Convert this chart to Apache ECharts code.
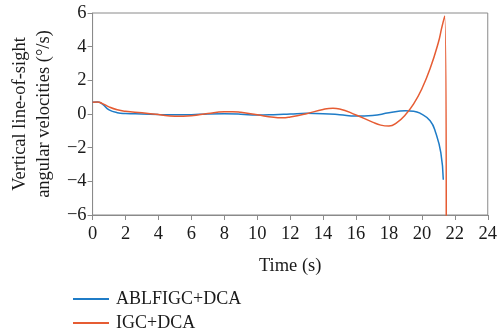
<!DOCTYPE html>
<html><head><meta charset="utf-8">
<script src="https://cdn.jsdelivr.net/npm/echarts@6/dist/echarts.min.js"></script>
<style>html,body{margin:0;padding:0;background:#fff}#c{width:500px;height:333px}</style>
</head><body><div id="c"></div>
<script>
const seriesNames = ['ABLFIGC+DCA', 'IGC+DCA'];
const blueT = [0, 0.3, 0.6, 1, 1.5, 2, 3, 4, 5, 6, 7, 8, 9, 10, 11, 12, 13, 14, 15, 16, 17, 18, 19, 19.5, 19.9, 20.5, 20.85, 21.15, 21.3];
const blueV = [0.7, 0.72, 0.58, 0.25, 0.08, 0.03, 0, -0.03, -0.05, -0.04, 0, 0.01, -0.01, -0.06, -0.04, 0, 0.04, 0.02, -0.04, -0.12, -0.09, 0.07, 0.19, 0.17, 0.04, -0.4, -1.15, -2.3, -3.9];
const redT = [0, 0.3, 0.6, 1, 1.5, 2, 3, 4, 5, 6, 7, 8, 8.5, 9, 10, 11, 11.5, 12, 13, 14, 14.6, 15, 16, 17, 17.5, 18, 18.5, 19, 19.5, 20, 20.5, 21, 21.2, 21.38, 21.48];
const redV = [0.7, 0.72, 0.62, 0.42, 0.25, 0.16, 0.07, -0.03, -0.13, -0.1, 0.03, 0.13, 0.14, 0.1, -0.05, -0.2, -0.23, -0.18, 0.02, 0.27, 0.34, 0.3, -0.06, -0.48, -0.66, -0.72, -0.5, -0.05, 0.6, 1.5, 2.7, 4.25, 5.1, 5.82, -7];
const xTicks = {min: 0, max: 24, interval: 2};
const yTicks = {min: -6, max: 6, interval: 2};

const zip = (t, v) => t.map((x, i) => [x, v[i]]);
const font = 'Liberation Serif';
const minus = v => String(v).replace('-', '\u2212');
const colors = ['#1f7cc7', '#e65c33'];
const legendBase = {
  left: 68, itemWidth: 36, itemHeight: 2, icon: 'rect',
  textStyle: {fontFamily: font, fontSize: 18, color: '#1a1a1a', padding: [0, 0, 0, 2]}
};

const chart = echarts.init(document.getElementById('c'));
chart.setOption({
  animation: false,
  grid: {left: 83, right: 10, top: 13, bottom: 118, show: true, borderColor: '#8a8a8a', borderWidth: 1},
  legend: [
    Object.assign({}, legendBase, {top: 285, data: [seriesNames[0]]}),
    Object.assign({}, legendBase, {top: 309, data: [seriesNames[1]]})
  ],
  xAxis: {
    type: 'value', min: xTicks.min, max: xTicks.max, interval: xTicks.interval,
    name: 'Time (s)', nameLocation: 'middle', nameGap: 42,
    nameTextStyle: {fontFamily: font, fontSize: 18.5, color: '#1a1a1a'},
    axisLine: {onZero: false, lineStyle: {color: '#8a8a8a'}},
    axisTick: {length: 5, lineStyle: {color: '#8a8a8a'}},
    axisLabel: {fontFamily: font, fontSize: 18.5, color: '#1a1a1a', margin: 10, formatter: minus},
    splitLine: {show: false}
  },
  yAxis: {
    type: 'value', min: yTicks.min, max: yTicks.max, interval: yTicks.interval,
    name: 'Vertical line-of-sight\nangular velocities (\u00b0/s)', nameLocation: 'middle', nameGap: 35,
    nameTextStyle: {fontFamily: font, fontSize: 18.5, color: '#1a1a1a', lineHeight: 24},
    axisLine: {onZero: false, lineStyle: {color: '#8a8a8a'}},
    axisTick: {length: 5, lineStyle: {color: '#8a8a8a'}},
    axisLabel: {fontFamily: font, fontSize: 18.5, color: '#1a1a1a', margin: 6, formatter: minus},
    splitLine: {show: false}
  },
  series: [
    {name: seriesNames[0], type: 'line', data: zip(blueT, blueV), smooth: 0.5, symbol: 'none',
     lineStyle: {color: colors[0], width: 1.5}, itemStyle: {color: colors[0]}},
    {name: seriesNames[1], type: 'line', data: zip(redT, redV), smooth: 0.5, symbol: 'none',
     lineStyle: {color: colors[1], width: 1.5}, itemStyle: {color: colors[1]}}
  ]
});
</script></body></html>
